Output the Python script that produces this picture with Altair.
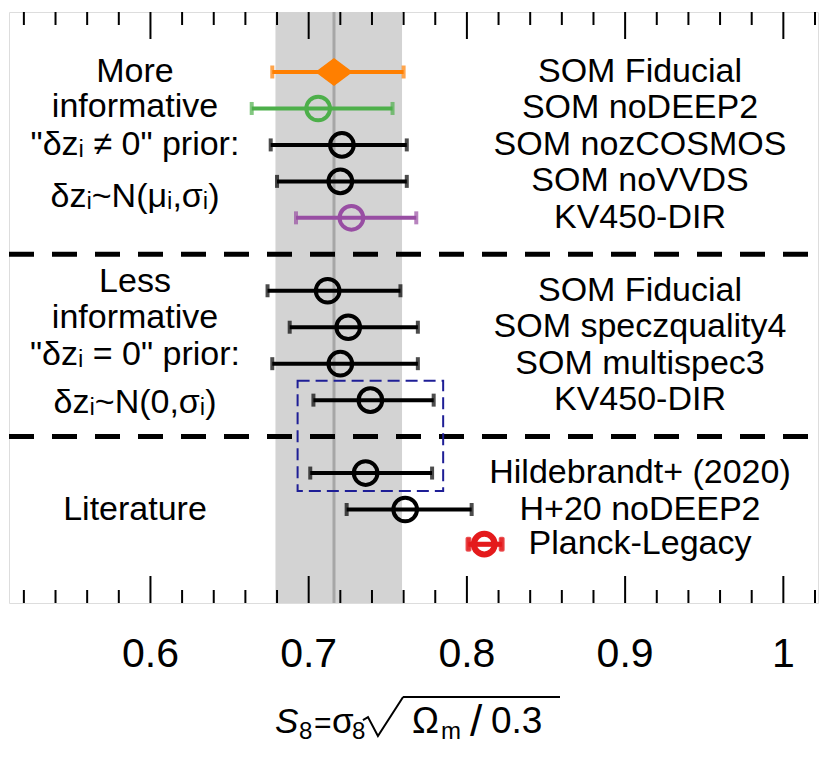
import altair as alt
import pandas as pd

# --- S8 constraints per redshift-calibration setup -------------------------
labels = ["SOM Fiducial", "SOM noDEEP2", "SOM nozCOSMOS", "SOM noVVDS", "KV450-DIR",
          "SOM Fiducial", "SOM speczquality4", "SOM multispec3", "KV450-DIR",
          "Hildebrandt+ (2020)", "H+20 noDEEP2", "Planck-Legacy"]
kinds = ["fiducial", "nodeep2", "som", "som", "kv450",
         "som", "som", "som", "som",
         "som", "som", "planck"]
rows = [1, 2, 3, 4, 5, 7, 8, 9, 10, 12, 13, 13.95]
s8 = [0.716, 0.706, 0.721, 0.720, 0.727, 0.712, 0.725, 0.720, 0.739, 0.736, 0.761, 0.811]
s8_lo = [0.677, 0.664, 0.676, 0.680, 0.692, 0.674, 0.688, 0.677, 0.703, 0.701, 0.724, 0.801]
s8_hi = [0.760, 0.753, 0.762, 0.762, 0.768, 0.758, 0.769, 0.769, 0.779, 0.778, 0.803, 0.822]

# fiducial 68% band
band_lo, band_mid, band_hi = 0.679, 0.716, 0.759

# group separators and comparison box
separator_rows = [6, 11]
box_x = [0.693, 0.785]
box_y = [9.47, 12.49]

# group captions on the left
group_text = ["More", "informative", "\"δzᵢ ≠ 0\" prior:", "δzᵢ~N(μᵢ,σᵢ)",
              "Less", "informative", "\"δzᵢ = 0\" prior:", "δzᵢ~N(0,σᵢ)",
              "Literature"]
group_rows = [1, 1.97, 3, 4.43, 6.76, 7.75, 8.76, 10.08, 13.0]

# axis ticks
major_ticks = [0.6, 0.7, 0.8, 0.9, 1.0]
tick_labels = ["0.6", "0.7", "0.8", "0.9", "1"]
minor_ticks = [0.52, 0.54, 0.56, 0.58, 0.62, 0.64, 0.66, 0.68, 0.72, 0.74, 0.76, 0.78,
               0.82, 0.84, 0.86, 0.88, 0.92, 0.94, 0.96, 0.98, 1.02]

W, H = 809, 591
FONT = "Liberation Sans"

df = pd.DataFrame({"label": labels, "kind": kinds, "row": rows,
                   "s8": s8, "lo": s8_lo, "hi": s8_hi})
band_df = pd.DataFrame({"lo": [band_lo], "mid": [band_mid], "hi": [band_hi]})
sep_df = pd.DataFrame({"row": separator_rows})
box_df = pd.DataFrame({"x1": [box_x[0]], "x2": [box_x[1]], "y1": [box_y[0]], "y2": [box_y[1]]})
grp_df = pd.DataFrame({"text": group_text, "row": group_rows})
major_df = pd.DataFrame({"v": major_ticks, "lab": tick_labels})
minor_df = pd.DataFrame({"v": minor_ticks})

xs = alt.Scale(domain=[0.5106, 1.0219], nice=False, zero=False)
ys = alt.Scale(domain=[-0.6456, 15.564], nice=False, zero=False, reverse=True)
X = lambda f: alt.X(f, scale=xs, axis=None)
Y = lambda f: alt.Y(f, scale=ys, axis=None)

kind_dom = ["fiducial", "nodeep2", "som", "kv450", "planck"]
kind_rng = ["#ff7f00", "#4daf4a", "#000000", "#984ea3", "#e41a1c"]
col = alt.Color("kind:N", scale=alt.Scale(domain=kind_dom, range=kind_rng), legend=None)

band = alt.Chart(band_df).mark_rect(color="#d3d3d3").encode(
    x=X("lo:Q"), x2="hi:Q", y=alt.value(0), y2=alt.value(H))
center = alt.Chart(band_df).mark_rule(color="#a6a6a6", strokeWidth=3).encode(
    x=X("mid:Q"), y=alt.value(0), y2=alt.value(H))

seps = alt.Chart(sep_df).mark_rule(color="black", strokeWidth=5, strokeDash=[25, 18]).encode(
    y=Y("row:Q"), x=alt.value(0), x2=alt.value(W))

box = alt.Chart(box_df).mark_rect(fillOpacity=0, stroke="#1e1e96", strokeWidth=2,
                                  strokeDash=[12, 6]).encode(
    x=X("x1:Q"), x2="x2:Q", y=Y("y1:Q"), y2="y2:Q")

base = alt.Chart(df)
is_planck = alt.datum.kind == "planck"
bars = base.mark_rule(strokeWidth=4).encode(x=X("lo:Q"), x2="hi:Q", y=Y("row:Q"), color=col)
cap_lo = base.mark_tick(orient="vertical", size=13, thickness=4).encode(
    x=X("lo:Q"), y=Y("row:Q"), color=col)
cap_hi = base.mark_tick(orient="vertical", size=13, thickness=4).encode(
    x=X("hi:Q"), y=Y("row:Q"), color=col)

rings = base.transform_filter(
    (alt.datum.kind != "fiducial") & (alt.datum.kind != "planck")).mark_point(
    shape="circle", size=560, strokeWidth=4, filled=False, opacity=1).encode(
    x=X("s8:Q"), y=Y("row:Q"), color=col)
planck_bar = base.transform_filter(is_planck).mark_rule(strokeWidth=5).encode(
    x=X("lo:Q"), x2="hi:Q", y=Y("row:Q"), color=col)
planck_caps = [base.transform_filter(is_planck).mark_tick(
    orient="vertical", size=15, thickness=6, cornerRadius=2).encode(
    x=X(f + ":Q"), y=Y("row:Q"), color=col) for f in ("lo", "hi")]
planck_ring = base.transform_filter(is_planck).mark_point(
    shape="circle", size=430, strokeWidth=6, filled=False, opacity=1).encode(
    x=X("s8:Q"), y=Y("row:Q"), color=col)
diamond = base.transform_filter(alt.datum.kind == "fiducial").mark_point(
    shape="M-1,0L0,-0.75L1,0L0,0.75Z", size=1400, filled=True, opacity=1).encode(
    x=X("s8:Q"), y=Y("row:Q"), color=col)

names = base.mark_text(font=FONT, fontSize=34, align="center", baseline="middle",
                       color="black").encode(x=alt.value(631), y=Y("row:Q"), text="label:N")
groups = alt.Chart(grp_df).mark_text(font=FONT, fontSize=34, align="center", baseline="middle",
                                     color="black").encode(
    x=alt.value(126), y=Y("row:Q"), text="text:N")

# inward ticks on the top and bottom edges
def tick_layer(data, y0, y1):
    return alt.Chart(data).mark_rule(color="black", strokeWidth=2).encode(
        x=X("v:Q"), y=alt.value(y0), y2=alt.value(y1))

ticks = [tick_layer(major_df, 0, 27), tick_layer(major_df, H, H - 27),
         tick_layer(minor_df, 0, 13), tick_layer(minor_df, H, H - 13)]

tick_text = alt.Chart(major_df).mark_text(font=FONT, fontSize=41, baseline="middle",
                                          align="center", color="black").encode(
    x=X("v:Q"), y=alt.value(H + 52), text="lab:N")

# x-axis title S8 = sigma8 * sqrt(Omega_m / 0.3), set piece by piece
one = pd.DataFrame({"k": [0]})
BASE_Y = H + 130   # baseline of the full-size glyphs
SUB_Y = BASE_Y + 6


def piece(text, x, size, y, style="normal"):
    return alt.Chart(one).mark_text(
        text=text, font=FONT, fontSize=size, fontStyle=style, align="left",
        baseline="alphabetic", color="black").encode(x=alt.value(x), y=alt.value(y))


title = [
    piece("S", 266, 35, BASE_Y, "italic"),
    piece("8", 290, 24, SUB_Y),
    piece("=", 305, 30, BASE_Y),
    piece("σ", 323, 35, BASE_Y),
    piece("8", 343, 24, SUB_Y),
    piece("Ω", 403, 36, BASE_Y),
    piece("m", 432, 24, SUB_Y),
    piece("/", 461, 44, BASE_Y + 3),
    piece("0.3", 482, 37, BASE_Y),
]
radical = alt.Chart(one).mark_point(
    shape="M-1.03,0.18L-0.77,0.03L-0.26,1L1.03,-1", size=1521, filled=False,
    strokeWidth=2, color="black", opacity=1).encode(
    x=alt.value(374), y=alt.value(H + 113.5))
overline = alt.Chart(one).mark_rule(color="black", strokeWidth=2).encode(
    x=alt.value(394), x2=alt.value(551), y=alt.value(H + 94))

chart = alt.layer(band, center, seps, box, bars, cap_lo, cap_hi, rings,
                  planck_bar, *planck_caps, planck_ring, diamond,
                  names, groups, *ticks, tick_text, *title, radical, overline).properties(
    width=W, height=H,
    padding={"left": 9, "top": 12, "right": 9, "bottom": 154},
    autosize=alt.AutoSizeParams(type="none"),
).configure_view(stroke="black", strokeWidth=2.5).configure(background="white")

chart.save("out.html", embed_options={"renderer": "svg", "actions": False})
